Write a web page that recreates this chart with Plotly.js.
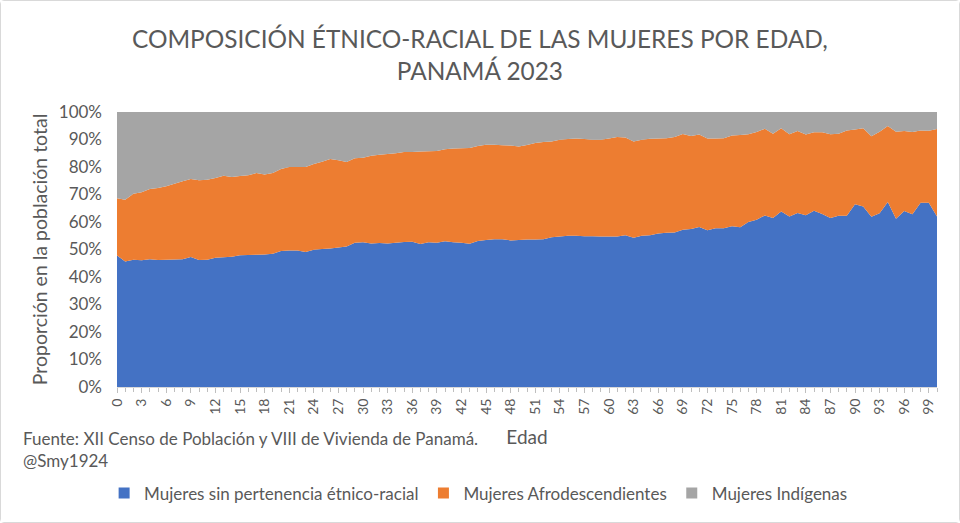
<!DOCTYPE html>
<html>
<head>
<meta charset="utf-8">
<script src="https://cdn.plot.ly/plotly-3.0.1.min.js"></script>
<style>
  html, body { margin: 0; padding: 0; background: #fff; }
  #chart { width: 958px; height: 521px; border: 1px solid #d9d9d9; border-radius: 4px; }
</style>
</head>
<body>
<div id="chart"></div>
<script>
// Edad 0..100, proporciones (%)
const edades = Array.from({ length: 101 }, (_, i) => i);

const sinPertenencia = [
  47.8, 45.6, 46.3, 46.1, 46.5, 46.2, 46.3, 46.4, 46.5, 47.3,
  46.2, 46.3, 47.0, 47.2, 47.4, 47.9, 48.0, 48.1, 48.2, 48.5,
  49.5, 49.6, 49.6, 49.1, 49.9, 50.2, 50.4, 50.7, 51.1, 52.5,
  52.6, 52.2, 52.4, 52.2, 52.5, 52.7, 52.8, 52.0, 52.6, 52.5,
  53.0, 52.6, 52.5, 52.1, 53.1, 53.5, 53.7, 53.7, 53.3, 53.5,
  53.6, 53.6, 53.7, 54.5, 54.7, 55.0, 55.0, 54.8, 54.8, 54.7,
  54.7, 54.7, 55.2, 54.3, 55.0, 55.2, 55.8, 56.1, 56.2, 57.2,
  57.5, 58.2, 57.0, 57.7, 57.7, 58.5, 58.1, 60.0, 60.8, 62.4,
  61.5, 63.8, 62.0, 63.3, 62.5, 64.1, 62.9, 61.5, 62.3, 62.3,
  66.5, 65.6, 61.9, 63.2, 67.3, 61.2, 64.0, 62.8, 67.0, 67.0,
  62.0
];

const afrodescendientes = [
  20.8, 22.5, 24.0, 24.7, 25.5, 26.2, 26.7, 27.5, 28.3, 28.3,
  29.0, 29.1, 29.0, 29.6, 29.0, 28.8, 29.0, 29.7, 29.1, 29.3,
  29.8, 30.4, 30.4, 30.9, 31.2, 31.7, 32.5, 31.8, 30.7, 30.7,
  30.8, 31.9, 32.1, 32.5, 32.5, 32.8, 32.7, 33.6, 33.1, 33.3,
  33.5, 34.1, 34.3, 34.8, 34.5, 34.6, 34.4, 34.2, 34.5, 34.0,
  34.4, 35.1, 35.4, 34.8, 35.2, 35.2, 35.4, 35.4, 35.1, 35.2,
  35.7, 36.2, 35.5, 35.0, 34.9, 35.1, 34.6, 34.4, 34.7, 34.8,
  33.8, 33.6, 33.4, 32.7, 32.8, 33.0, 33.5, 31.9, 31.9, 31.5,
  30.6, 30.3, 29.9, 29.8, 29.3, 28.5, 29.7, 30.4, 29.8, 31.0,
  27.1, 28.5, 29.3, 29.6, 27.6, 31.6, 29.1, 29.9, 26.3, 26.2,
  31.8
];

const indigenas = [
  31.4, 31.9, 29.7, 29.2, 28.0, 27.6, 27.0, 26.1, 25.2, 24.4,
  24.8, 24.6, 24.0, 23.2, 23.6, 23.3, 23.0, 22.2, 22.7, 22.2,
  20.7, 20.0, 20.0, 20.0, 18.9, 18.1, 17.1, 17.5, 18.2, 16.8,
  16.6, 15.9, 15.5, 15.3, 15.0, 14.5, 14.5, 14.4, 14.3, 14.2,
  13.5, 13.3, 13.2, 13.1, 12.4, 11.9, 11.9, 12.1, 12.2, 12.5,
  12.0, 11.3, 10.9, 10.7, 10.1, 9.8, 9.6, 9.8, 10.1, 10.1,
  9.6, 9.1, 9.3, 10.7, 10.1, 9.7, 9.6, 9.5, 9.1, 8.0,
  8.7, 8.2, 9.6, 9.6, 9.5, 8.5, 8.4, 8.1, 7.3, 6.1,
  7.9, 5.9, 8.1, 6.9, 8.2, 7.4, 7.4, 8.1, 7.9, 6.7,
  6.4, 5.9, 8.8, 7.2, 5.1, 7.2, 6.9, 7.3, 6.7, 6.8,
  6.2
];

const nombres = [
  'Mujeres sin pertenencia étnico-racial',
  'Mujeres Afrodescendientes',
  'Mujeres Indígenas'
];
const colores = ['#4472C4', '#ED7D31', '#A5A5A5'];

const FONT = 'Lato, "Open Sans", sans-serif';
const GRIS = '#595959';

const areas = [sinPertenencia, afrodescendientes, indigenas].map((y, i) => ({
  x: edades, y, name: nombres[i], type: 'scatter', mode: 'none',
  stackgroup: 'uno', fillcolor: colores[i], line: { width: 0 },
  hoverinfo: 'x+y+name', showlegend: false
}));

// entradas de leyenda con cuadrado pequeño, como en Excel
const leyenda = nombres.map((n, i) => ({
  x: [null], y: [null], name: n, type: 'scatter', mode: 'markers',
  marker: { symbol: 'square', size: 11, color: colores[i] },
  hoverinfo: 'skip'
}));

const layout = {
  width: 958, height: 521,
  paper_bgcolor: '#fff', plot_bgcolor: '#fff',
  font: { family: FONT, color: GRIS },
  margin: { l: 116, r: 22, t: 111, b: 134 },
  xaxis: {
    range: [0, 100], tick0: 0, dtick: 3, tickangle: -90,
    ticks: 'outside', ticklen: 5, tickcolor: '#bfbfbf',
    minor: { dtick: 1, ticks: 'outside', ticklen: 4, tickcolor: '#bfbfbf' },
    showline: true, linecolor: '#d9d9d9', showgrid: false, zeroline: false,
    tickfont: { size: 14, color: GRIS },
    title: { text: 'Edad', font: { size: 19, color: GRIS }, standoff: 16 }
  },
  yaxis: {
    range: [0, 100], dtick: 10, ticksuffix: '%',
    showgrid: true, gridcolor: '#d9d9d9', zeroline: false,
    tickfont: { size: 17, color: GRIS },
    ticklabelstandoff: 14,
    title: { text: 'Proporción en la población total', font: { size: 19.5, color: GRIS }, standoff: 5 }
  },
  showlegend: true,
  legend: {
    orientation: 'h', x: 0.441, xanchor: 'center', y: -0.382, yanchor: 'middle',
    font: { size: 17, color: GRIS }, traceorder: 'normal', itemwidth: 30
  },
  annotations: [
    {
      text: 'COMPOSICIÓN ÉTNICO-RACIAL DE LAS MUJERES POR EDAD,<br>PANAMÁ 2023',
      xref: 'paper', yref: 'paper', x: 0.4426, y: 1.209,
      xanchor: 'center', yanchor: 'middle', showarrow: false,
      font: { size: 24.4, color: GRIS }
    },
    {
      text: 'Fuente: XII Censo de Población y VIII de Vivienda de Panamá.',
      xref: 'paper', yref: 'paper', x: -0.117, y: -0.1855,
      xanchor: 'left', yanchor: 'middle', showarrow: false,
      font: { size: 17, color: GRIS }
    },
    {
      text: '@Smy1924',
      xref: 'paper', yref: 'paper', x: -0.117, y: -0.269,
      xanchor: 'left', yanchor: 'middle', showarrow: false,
      font: { size: 17, color: GRIS }
    }
  ]
};

Plotly.newPlot('chart', areas.concat(leyenda), layout, { displayModeBar: false, responsive: false });
</script>
</body>
</html>
